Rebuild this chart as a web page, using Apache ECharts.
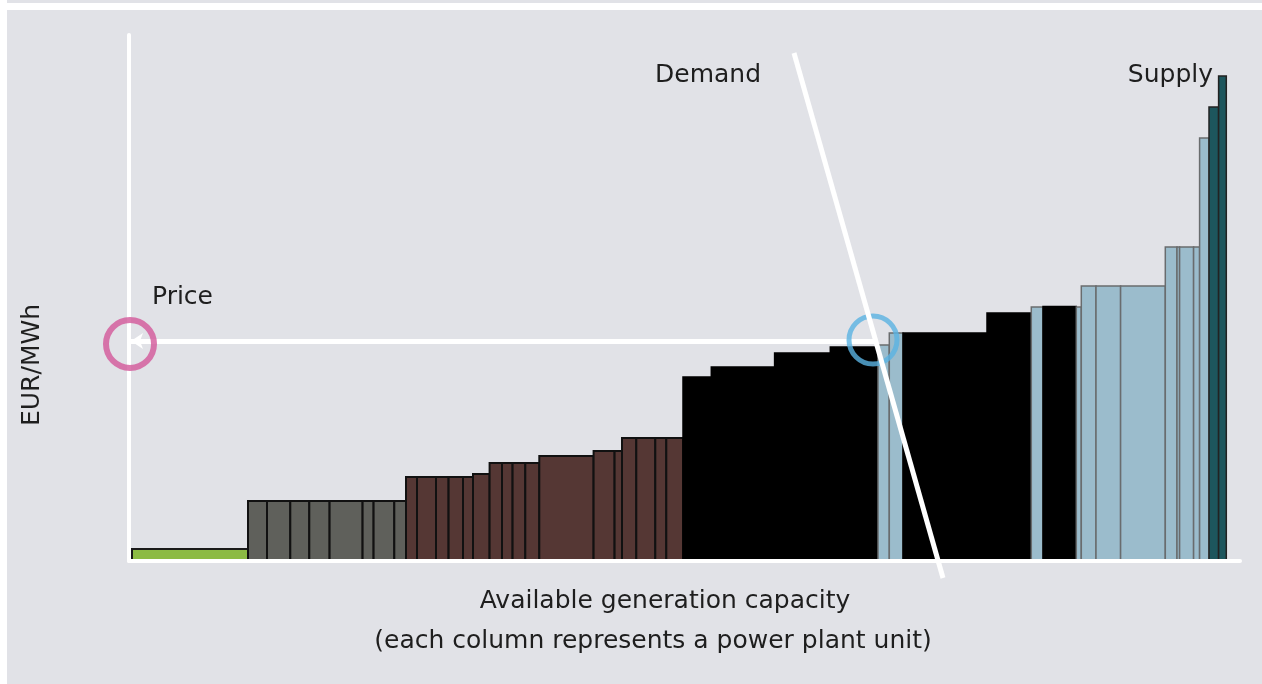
<!DOCTYPE html>
<html>
<head>
<meta charset="utf-8">
<script src="https://cdn.jsdelivr.net/npm/echarts@6/dist/echarts.min.js"></script>
<style>
  html, body { margin: 0; padding: 0; background: #e1e2e7; }
  #chart { width: 1262px; height: 684px; }
</style>
</head>
<body>
<div id="chart"></div>
<script>
// merit order: each unit's capacity (width) and bid price (height), left to right
var startCapacity = 3;
var unitFuel = [
  'res',
  'nuclear', 'nuclear', 'nuclear', 'nuclear', 'nuclear', 'nuclear', 'nuclear', 'nuclear',
  'lignite', 'lignite', 'lignite', 'lignite', 'lignite', 'lignite', 'lignite', 'lignite', 'lignite',
  'lignite', 'lignite', 'lignite', 'lignite', 'lignite', 'lignite', 'lignite', 'lignite',
  'coal', 'coal', 'coal', 'coal', 'gas', 'gas', 'coal', 'coal', 'gas', 'coal',
  'gas', 'gas', 'gas', 'gas', 'gas', 'gas', 'gas', 'gas', 'gas',
  'oil', 'oil'
];
var unitCapacity = [
  116,
  19, 23.3, 19, 20.3, 33, 11, 20.7, 11.7,
  11, 19, 12.6, 14.4, 10, 16.6, 12.4, 10.6, 12.7,
  14, 54.3, 21, 7.4, 14.3, 19, 11, 16.7,
  28.3, 63.3, 55.7, 47.7, 11.3, 13.7, 84, 44.3, 11.7, 33.3,
  5, 14.7, 24.6, 44.7, 11.7, 2.6, 14, 6, 9.4,
  9.6, 7.7
];
var unitPrice = [
  12,
  60, 60, 60, 60, 60, 60, 60, 60,
  84, 84, 84, 84, 84, 87, 98, 98, 98,
  98, 105, 110, 110, 123, 123, 123, 123,
  184, 194, 208, 214, 216, 228, 228, 248, 254, 254.5,
  254, 275, 275, 275, 314, 314, 314, 314, 423,
  454, 485
];

// demand curve end points and clearing price
var demandLine = [[665, 508], [814, -17]];
var clearingCapacity = 744;
var clearingPrice = 220;

var fuelStyle = {
  res:     { fill: '#8cbb44', stroke: '#1a1a1a', width: 2 },
  nuclear: { fill: '#5f605b', stroke: '#111111', width: 2 },
  lignite: { fill: '#553734', stroke: '#111111', width: 2 },
  coal:    { fill: '#000000', stroke: '#000000', width: 1.5 },
  gas:     { fill: '#9bbccc', stroke: '#696c6e', width: 1.5 },
  oil:     { fill: '#1d565d', stroke: '#222222', width: 1.5 }
};

var units = [];
var cum = startCapacity;
for (var i = 0; i < unitCapacity.length; i++) {
  units.push([cum, cum + unitCapacity[i], unitPrice[i], unitFuel[i]]);
  cum += unitCapacity[i];
}

var dom = document.getElementById('chart');
var myChart = echarts.init(dom, null, { renderer: 'canvas' });

var textStyle = { fill: '#1e1e1e', fontFamily: 'DejaVu Sans', fontSize: 25 };

var option = {
  animation: false,
  backgroundColor: '#e1e2e7',
  grid: { left: 129, right: 22, top: 35, bottom: 123 },
  xAxis: {
    type: 'value', min: 0, max: 1111, z: 5,
    axisLine: { lineStyle: { color: '#ffffff', width: 4 } },
    axisTick: { show: false }, axisLabel: { show: false }, splitLine: { show: false }
  },
  yAxis: {
    type: 'value', min: 0, max: 526, z: 5,
    axisLine: { show: true, lineStyle: { color: '#ffffff', width: 4 } },
    axisTick: { show: false }, axisLabel: { show: false }, splitLine: { show: false }
  },
  graphic: [
    { type: 'rect', left: 0, top: 3, shape: { width: 1262, height: 7 }, style: { fill: '#ffffff' }, z: 0 },
    { type: 'rect', left: 0, top: 0, shape: { width: 7, height: 684 }, style: { fill: '#ffffff' }, z: 0 },
    { type: 'text', x: 655, y: 75, style: Object.assign({ text: 'Demand', textVerticalAlign: 'middle' }, textStyle), z: 20 },
    { type: 'text', x: 1213, y: 75, style: Object.assign({ text: 'Supply', textAlign: 'right', textVerticalAlign: 'middle' }, textStyle), z: 20 },
    { type: 'text', x: 152, y: 297, style: Object.assign({ text: 'Price', textVerticalAlign: 'middle' }, textStyle), z: 20 },
    { type: 'text', x: 32, y: 365, rotation: Math.PI / 2,
      style: Object.assign({ text: 'EUR/MWh', textAlign: 'center', textVerticalAlign: 'middle' }, textStyle), z: 20 },
    { type: 'text', x: 665, y: 601,
      style: Object.assign({ text: 'Available generation capacity', textAlign: 'center', textVerticalAlign: 'middle' }, textStyle), z: 20 },
    { type: 'text', x: 653, y: 641,
      style: Object.assign({ text: '(each column represents a power plant unit)', textAlign: 'center', textVerticalAlign: 'middle' }, textStyle), z: 20 }
  ],
  series: [
    {
      name: 'Supply',
      type: 'custom',
      z: 2,
      renderItem: function (params, api) {
        var d = units[params.dataIndex];
        var a = api.coord([d[0], d[2]]);
        var b = api.coord([d[1], 0]);
        var s = fuelStyle[d[3]];
        return {
          type: 'rect',
          shape: { x: a[0], y: a[1], width: b[0] - a[0], height: b[1] - a[1] },
          style: { fill: s.fill, stroke: s.stroke, lineWidth: s.width }
        };
      },
      encode: { x: [0, 1], y: 2 },
      data: units.map(function (u) { return [u[0], u[1], u[2]]; })
    },
    {
      name: 'Price',
      type: 'lines',
      coordinateSystem: 'cartesian2d',
      z: 6,
      symbol: ['none', 'arrow'],
      symbolSize: 12,
      lineStyle: { color: '#ffffff', width: 5, opacity: 1 },
      data: [{ coords: [[clearingCapacity + 4, clearingPrice], [2, clearingPrice]] }]
    },
    {
      name: 'Markers',
      type: 'scatter',
      z: 10,
      symbol: 'circle',
      symbolSize: 48,
      data: [
        { value: [1, clearingPrice - 3], itemStyle: { color: 'rgba(0,0,0,0)', borderColor: '#d3579a', borderWidth: 6 } },
        { value: [clearingCapacity, clearingPrice + 1], itemStyle: { color: 'rgba(0,0,0,0)', borderColor: '#5ab3e2', borderWidth: 5 } }
      ]
    },
    {
      name: 'Demand',
      type: 'lines',
      coordinateSystem: 'cartesian2d',
      z: 12,
      clip: false,
      lineStyle: { color: '#ffffff', width: 5, opacity: 1 },
      data: [{ coords: demandLine }]
    }
  ]
};

myChart.setOption(option);
window.addEventListener('resize', myChart.resize);
</script>
</body>
</html>
